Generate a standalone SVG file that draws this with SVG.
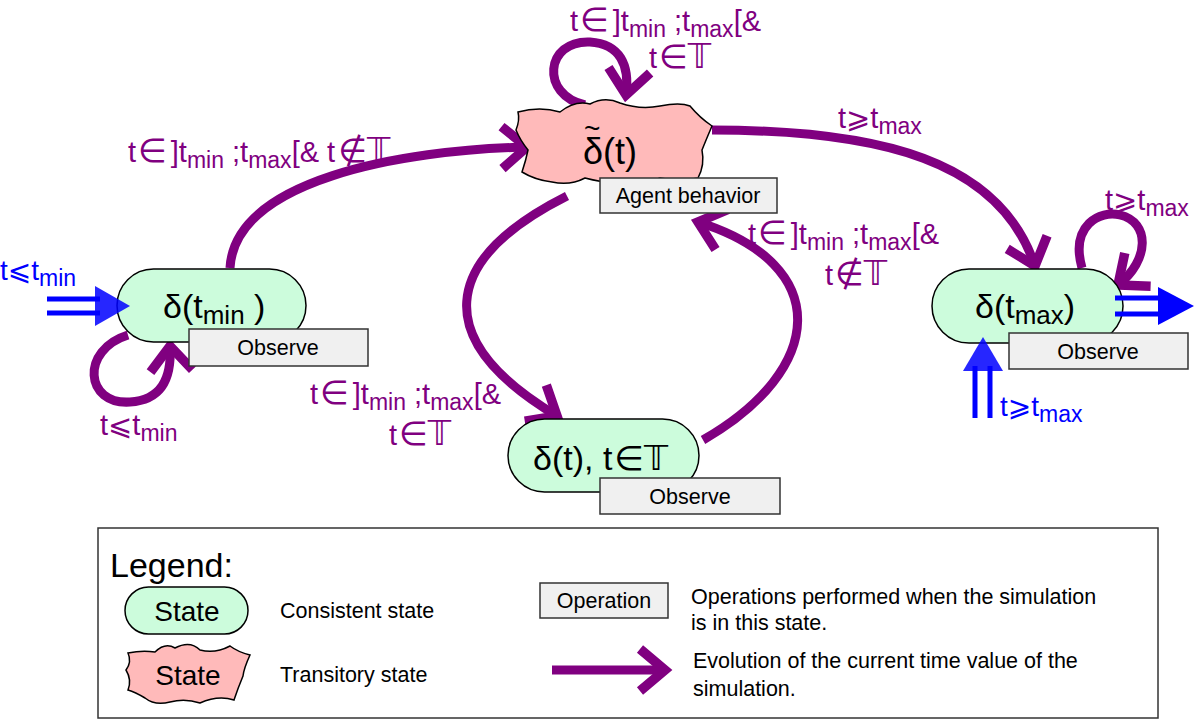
<svg xmlns="http://www.w3.org/2000/svg" width="1194" height="721" viewBox="0 0 1194 721">
<style>
.conn{fill:none;stroke:#800080;stroke-width:9;marker-end:url(#ah)}
.pill{fill:#ccfcdc;stroke:#000;stroke-width:1.5}
.blob{fill:#ffbaba;stroke:#000;stroke-width:1.5}
.op{fill:#f0f0f0;stroke:#333;stroke-width:1.5}
.optx{font-family:"Liberation Sans",Arial,sans-serif;font-size:21.5px;fill:#000;text-anchor:middle}
.node{font-family:"Liberation Sans","DejaVu Sans",sans-serif;font-size:34px;fill:#000}
.lbl{font-family:"Liberation Sans","DejaVu Sans",sans-serif;font-size:29px;fill:#800080}
.blue{font-family:"Liberation Sans","DejaVu Sans",sans-serif;font-size:28px;fill:#0000ff}
.txt{font-family:"Liberation Sans",Arial,sans-serif;font-size:21.5px;fill:#000}
.m{font-family:"DejaVu Sans",sans-serif;font-size:33px}
.s{font-size:23px}
.bl{fill:none;stroke:#0000ff;stroke-width:5}
</style>
<defs>
<marker id="ah" markerUnits="userSpaceOnUse" orient="auto" refX="0" refY="0" markerWidth="60" markerHeight="60" overflow="visible">
<path d="M-25,-21 L0,0 L-25,21" fill="none" stroke="#800080" stroke-width="9.5"/>
</marker>
</defs>

<g id="connectors">
<path class="conn" d="M585,105 C540,95 545,40 590,42 C620,44 630,65 626,95"/>
<path class="conn" d="M230,268 C235,180 400,150 527,147"/>
<path class="conn" d="M712,130 C880,130 1000,160 1035,266"/>
<path class="conn" d="M567,196 C440,260 430,340 557,416"/>
<path class="conn" d="M703,440 C825,370 835,265 698,222"/>
<path class="conn" d="M128,335 C80,350 85,405 130,402 C160,400 172,380 170,346"/>
<path class="conn" d="M1082,268 C1070,225 1100,210 1120,215 C1150,222 1150,260 1118,285"/>
</g>

<g id="labels">
<text class="lbl" x="570" y="31">t<tspan class="m" dx="2">∈</tspan><tspan dx="4">]t</tspan><tspan class="s" dy="6">min</tspan><tspan dy="-6"> ;t</tspan><tspan class="s" dy="6">max</tspan><tspan dy="-6">[&amp;</tspan></text>
<text class="lbl" x="680" y="68" text-anchor="middle">t<tspan class="m" dx="2">∈𝕋</tspan></text>
<text class="lbl" x="128" y="162">t<tspan class="m" dx="2">∈</tspan><tspan dx="4">]t</tspan><tspan class="s" dy="6">min</tspan><tspan dy="-6"> ;t</tspan><tspan class="s" dy="6">max</tspan><tspan dy="-6">[&amp; t</tspan><tspan class="m" dx="3">∉𝕋</tspan></text>
<text class="lbl" x="838" y="128">t⩾t<tspan class="s" dy="6">max</tspan></text>
<text class="lbl" x="310" y="404">t<tspan class="m" dx="2">∈</tspan><tspan dx="4">]t</tspan><tspan class="s" dy="6">min</tspan><tspan dy="-6"> ;t</tspan><tspan class="s" dy="6">max</tspan><tspan dy="-6">[&amp;</tspan></text>
<text class="lbl" x="420" y="445" text-anchor="middle">t<tspan class="m" dx="2">∈𝕋</tspan></text>
<text class="lbl" x="748" y="244">t<tspan class="m" dx="2">∈</tspan><tspan dx="4">]t</tspan><tspan class="s" dy="6">min</tspan><tspan dy="-6"> ;t</tspan><tspan class="s" dy="6">max</tspan><tspan dy="-6">[&amp;</tspan></text>
<text class="lbl" x="856" y="285" text-anchor="middle">t<tspan class="m" dx="2">∉𝕋</tspan></text>
<text class="lbl" x="100" y="435">t⩽t<tspan class="s" dy="6">min</tspan></text>
<text class="lbl" x="1105" y="210">t⩾t<tspan class="s" dy="6">max</tspan></text>
<text class="blue" x="0" y="280">t⩽t<tspan class="s" dy="6">min</tspan></text>
<text class="blue" x="1000" y="416">t⩾t<tspan class="s" dy="6">max</tspan></text>
</g>

<g id="transitory">
<path class="blob" d="M518,112 Q540,106 560,112 Q575,100 590,104 Q605,96 620,103 Q640,110 660,106 Q680,102 690,106 Q700,118 712,126 Q706,140 702,150 Q705,165 698,178 Q680,182 660,178 Q640,186 620,184 Q600,182 585,178 Q570,186 552,182 Q535,180 522,172 Q526,160 528,150 Q520,140 516,130 Q520,120 518,112 Z"/>
<text class="node"><tspan x="584" y="138" font-size="28">~</tspan><tspan x="583" y="164" font-size="36">δ(t)</tspan></text>
<rect class="op" x="600" y="178" width="177" height="35"/>
<text class="optx" x="688" y="203">Agent behavior</text>
</g>

<g id="state-tmin">
<rect class="pill" x="117" y="269" width="189" height="73" rx="36.5"/>
<text class="node" x="163" y="318">δ(t<tspan font-size="26" dy="6">min</tspan><tspan dy="-6"> )</tspan></text>
<rect class="op" x="189" y="329" width="179" height="37"/>
<text class="optx" x="278" y="355">Observe</text>
</g>

<g id="state-t">
<rect class="pill" x="508" y="419" width="191" height="73" rx="36.5"/>
<text class="node" x="533" y="470">δ(t), t<tspan font-family="DejaVu Sans" dx="2">∈𝕋</tspan></text>
<rect class="op" x="600" y="478" width="180" height="36"/>
<text class="optx" x="690" y="504">Observe</text>
</g>

<g id="state-tmax">
<rect class="pill" x="932" y="269" width="191" height="74" rx="37"/>
<text class="node" x="975" y="318">δ(t<tspan font-size="26" dy="6">max</tspan><tspan dy="-6">)</tspan></text>
<rect class="op" x="1009" y="333" width="179" height="36"/>
<text class="optx" x="1098" y="359">Observe</text>
</g>

<g id="blue-arrows">
<path class="bl" d="M47,299 H100 M47,313 H100"/>
<path d="M95,286 L130,306 L95,326 Z" fill="#0000ff" fill-opacity="0.85"/>
<path class="bl" d="M1115,298 H1162 M1115,314 H1162"/>
<path d="M1158,287 L1194,306 L1158,325 Z" fill="#0000ff"/>
<path class="bl" d="M975,418 V366 M990,418 V366"/>
<path d="M963,371 L983,337 L1003,371 Z" fill="#0000ff" fill-opacity="0.85"/>
</g>

<g id="legend">
<rect x="98" y="528" width="1060" height="190" fill="#fff" stroke="#333" stroke-width="1.5"/>
<text x="110" y="577" font-family="Liberation Sans, Arial, sans-serif" font-size="34">Legend:</text>
<rect class="pill" x="125" y="587" width="123" height="47" rx="23.5"/>
<text x="187" y="621" font-family="Liberation Sans, Arial, sans-serif" font-size="28" text-anchor="middle">State</text>
<text class="txt" x="280" y="618">Consistent state</text>
<path class="blob" d="M128,653 Q142,650 155,652 Q165,642 175,648 Q190,640 200,650 Q215,654 230,646 Q238,652 250,655 Q244,668 243,676 Q238,688 234,700 Q218,695 200,703 Q185,698 170,702 Q155,706 145,698 Q135,692 128,690 Q132,680 126,670 Q132,662 128,653 Z"/>
<text x="188" y="685" font-family="Liberation Sans, Arial, sans-serif" font-size="28" text-anchor="middle">State</text>
<text class="txt" x="280" y="682">Transitory state</text>
<rect class="op" x="540" y="583" width="128" height="35"/>
<text class="optx" x="604" y="608">Operation</text>
<text class="txt" x="691" y="604">Operations performed when the simulation</text>
<text class="txt" x="691" y="630">is in this state.</text>
<path class="conn" d="M552,670 H665"/>
<text class="txt" x="693" y="668">Evolution of the current time value of the</text>
<text class="txt" x="693" y="696">simulation.</text>
</g>
</svg>
